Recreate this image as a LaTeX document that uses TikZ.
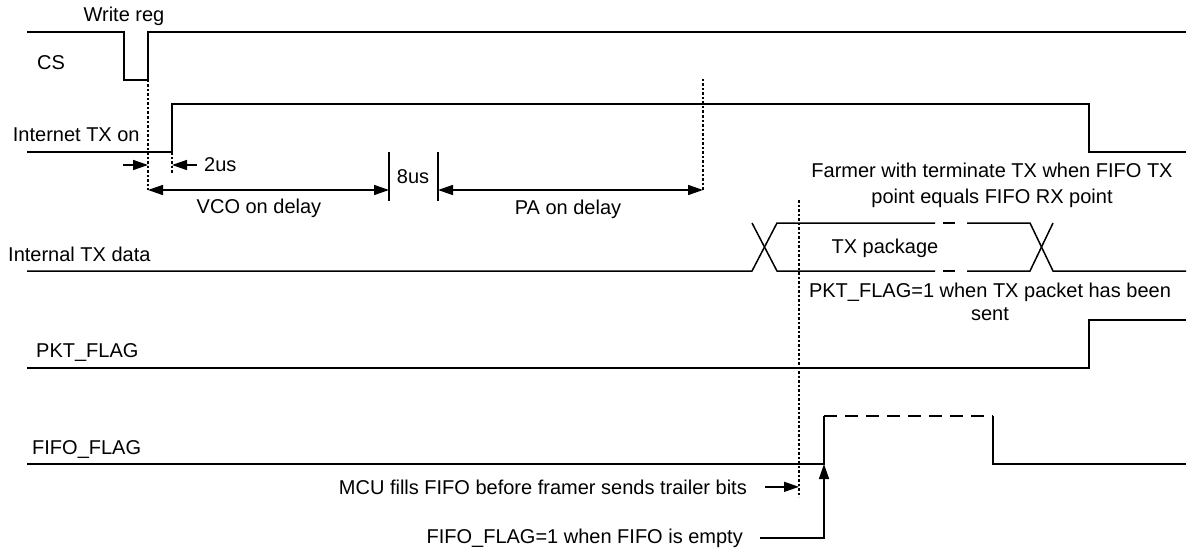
\documentclass[tikz,border=0pt]{standalone}
\usepackage{fontspec}
\setmainfont{Liberation Sans}
\usetikzlibrary{arrows.meta}

\tikzset{
    wave/.style={line width=1.5pt},
    guide/.style={line width=1.5pt, dash pattern=on 2.5pt off 2pt},
    dim/.style={line width=1.5pt, {Triangle[length=15pt,width=10pt]}-{Triangle[length=15pt,width=10pt]}},
    pointer/.style={line width=1.5pt, -{Triangle[length=15pt,width=10pt]}},
    lbl/.style={inner sep=0pt, font=\fontsize{20}{24}\selectfont},
}

\begin{document}
\begin{tikzpicture}[x=1pt,y=-1pt]
    \useasboundingbox (0,0) rectangle (1187,551);

    % signal names
    \node[lbl, anchor=base] (writereg) at (124,22) {Write reg};
    \node[lbl, anchor=base west] (cs) at (37,70) {CS};
    \node[lbl, anchor=base west] (txon) at (12.7,142) {Internet TX on};
    \node[lbl, anchor=base west] (txdata) at (8,261) {Internal TX data};
    \node[lbl, anchor=base west] (pktflag) at (36,357) {PKT\_FLAG};
    \node[lbl, anchor=base west] (fifoflag) at (32,454) {FIFO\_FLAG};

    % waveforms
    \draw[wave] (27,32) -- (124,32) -- (124,80) -- (148,80) -- (148,32) -- (1186,32);
    \draw[wave] (27,152) -- (172,152) -- (172,104) -- (1089,104) -- (1089,152) -- (1186,152);

    \draw[wave] (27,271) -- (752,271) -- (777,223) -- (935,223);
    \draw[wave] (752,223) -- (777,271) -- (935,271);
    \draw[wave] (943,223) -- (955,223) (943,271) -- (955,271);
    \draw[wave] (967,223) -- (1030,223) -- (1053,271) -- (1186,271);
    \draw[wave] (967,271) -- (1030,271) -- (1053,223);
    \node[lbl, anchor=base] (txpkg) at (885,253) {TX package};

    \draw[wave] (27,368) -- (1089,368) -- (1089,320) -- (1186,320);

    \coordinate (fifo rise) at (824,464);
    \draw[wave] (27,464) -- (fifo rise) -- (824,416);
    \draw[wave, dash pattern=on 13pt off 8pt] (824,416) -- (993,416);
    \draw[wave] (993,416) -- (993,464) -- (1186,464);

    % timing marks
    \coordinate (cs up) at (148,80);
    \coordinate (tx up) at (172,152);
    \coordinate (vco l) at (148,190);
    \coordinate (vco r) at (389,190);
    \coordinate (pa l) at (438,190);
    \coordinate (pa r) at (703,190);
    \coordinate (tail top) at (799,200);
    \coordinate (tail bottom) at (799,497);

    \draw[guide] (cs up) -- (vco l);
    \draw[guide] (tx up) -- (172,173);
    \draw[guide] (703,79) -- (pa r);
    \draw[guide] (tail top) -- (tail bottom);

    \foreach \x in {389,438}
        \draw[wave] (\x,152) -- (\x,201);

    \draw[pointer] (123,165) -- (148,165);
    \draw[pointer] (197,165) -- (172,165);
    \draw[dim] (vco l) -- (vco r);
    \draw[dim] (pa l) -- (pa r);

    \node[lbl, anchor=base west] (twous) at (204,171) {2us};
    \node[lbl, anchor=base] (eightus) at (413,183) {8us};
    \node[lbl, anchor=base] (vcolbl) at (259,213) {VCO on delay};
    \node[lbl, anchor=base] (palbl) at (568,214) {PA on delay};

    % notes
    \node[lbl, anchor=north, align=center, font=\fontsize{20}{26}\selectfont] (farmer) at (992,162.5)
        {Farmer with terminate TX when FIFO TX\\point equals FIFO RX point};
    \node[lbl, anchor=north, align=center, font=\fontsize{20}{23}\selectfont] (pktnote) at (990,282.5)
        {PKT\_FLAG=1 when TX packet has been\\sent};
    \node[lbl, anchor=base east] (mcu) at (747,494) {MCU fills FIFO before framer sends trailer bits};
    \node[lbl, anchor=base east] (fifonote) at (743,543) {FIFO\_FLAG=1 when FIFO is empty};

    \draw[pointer] ([xshift=18pt]mcu.east) -- (mcu.east -| tail bottom);
    \draw[pointer] ([xshift=17pt]fifonote.east) -| (fifo rise);

\end{tikzpicture}
\end{document}
